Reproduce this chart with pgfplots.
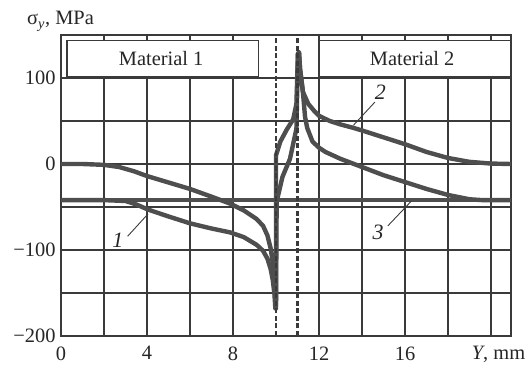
\documentclass[border=0pt]{standalone}
\usepackage{pgfplots}
\pgfplotsset{compat=1.18}
\usepackage{fontspec}
\setmainfont{Liberation Serif}
\definecolor{cv}{HTML}{4E4E4E}
\definecolor{gr}{HTML}{3A3A3A}
\begin{document}
\begin{tikzpicture}[font=\fontsize{20.5}{24}\selectfont]
\begin{axis}[
 scale only axis, width=450bp, height=301bp,
 xmin=0, xmax=20.93, ymin=-200, ymax=150,
 xtick={0,2,4,6,8,12,14,16,18,20},
 xticklabels={0,,4,,8,12,,16,,},
 ytick={-200,-150,-100,-50,0,50,100},
 yticklabels={−200,,−100,,0,,100},
 major tick length=0pt,
 grid=major,
 major grid style={gr, line width=1.6bp},
 axis line style={gr, line width=1.8bp},
 xticklabel style={yshift=-7bp, text=black!85},
 yticklabel style={xshift=-2bp, text=black!85},
 clip=false,
]
% line 3
\addplot[cv, line width=4.4bp] coordinates {(0,-42) (20.93,-42)};
% curve 2
\addplot[cv, line width=4.4bp, line join=round] coordinates {
(0,0) (1,0) (2,-1) (2.7,-3.5) (3.4,-8.5) (4,-14) (5,-21.5) (6,-29) (7,-38) (7.86,-46) (8.5,-54) (9.1,-64) (9.4,-72) (9.6,-83) (9.75,-98) (9.85,-115) (9.93,-140) (9.98,-165) (10.0,-165) (10.0,10) (10.2,26) (10.5,40) (10.8,52) (10.95,70) (11.02,128) (11.07,130) (11.12,110) (11.25,84) (11.5,70) (11.8,61) (12,56) (12.5,50) (13,46) (13.6,42) (14,39) (15,31) (16,23) (17,14) (18,7) (19,2.5) (20,0.5) (20.93,0)};
% curve 1
\addplot[cv, line width=4.4bp, line join=round] coordinates {
(0,-42) (2,-42) (3,-43) (3.5,-47) (4.05,-53) (5,-61) (6,-69) (7,-75) (7.86,-79.5) (8.5,-85) (9.1,-94) (9.4,-101) (9.6,-110) (9.75,-122) (9.85,-135) (9.93,-152) (9.97,-168) (10.0,-168) (10.03,-44) (10.3,-15) (10.65,6) (10.95,41) (11.02,128) (11.07,130) (11.12,110) (11.25,84) (11.35,55) (11.45,42) (11.7,26) (12,19) (12.3,14) (13,6) (14,-3.5) (15,-13) (16,-21) (17,-29) (18,-36) (19,-41) (19.6,-42) (20.93,-42)};
% interface lines
\addplot[gr, line width=2.8bp, dash pattern=on 5bp off 2.5bp] coordinates {(10,-200) (10,150)};
\addplot[gr, line width=2.8bp, dash pattern=on 5bp off 2.5bp] coordinates {(11,-200) (11,150)};
% material boxes
\draw[gr, line width=1.3bp, fill=white] (axis cs:0.28,102) rectangle (axis cs:9.2,144);
\node[text=black!85] at (axis cs:4.66,123) {Material 1};
\draw[gr, line width=1.3bp, fill=white] (axis cs:12,102) rectangle (axis cs:20.93,144);
\node[text=black!85] at (axis cs:16.33,123) {Material 2};
% curve labels
\draw[gr, line width=0.9bp] (axis cs:3.1,-84) -- (axis cs:4.05,-58);
\node[text=black!85, font=\fontsize{22}{26}\selectfont] at (axis cs:2.65,-89) {\textit{1}};
\draw[gr, line width=0.9bp] (axis cs:14.6,72) -- (axis cs:13.6,45);
\node[text=black!85, font=\fontsize{22}{26}\selectfont] at (axis cs:14.85,84) {\textit{2}};
\draw[gr, line width=0.9bp] (axis cs:15.2,-72) -- (axis cs:16.3,-43);
\node[text=black!85, font=\fontsize{22}{26}\selectfont] at (axis cs:14.75,-80) {\textit{3}};
% axis titles
\node[anchor=north, yshift=-7bp, text=black!85] at (axis cs:20.35,-200) {\textit{Y}, mm};
\node[anchor=base west, inner sep=0pt, text=black!85] at ([xshift=-34bp, yshift=10bp]rel axis cs:0,1) {σ\textsubscript{\textit{y}}, MPa};
\end{axis}
\pgfresetboundingbox
\path[use as bounding box] (current axis.south west) ++(-61bp,-32bp) rectangle ++(526bp,368bp);
\end{tikzpicture}
\end{document}
